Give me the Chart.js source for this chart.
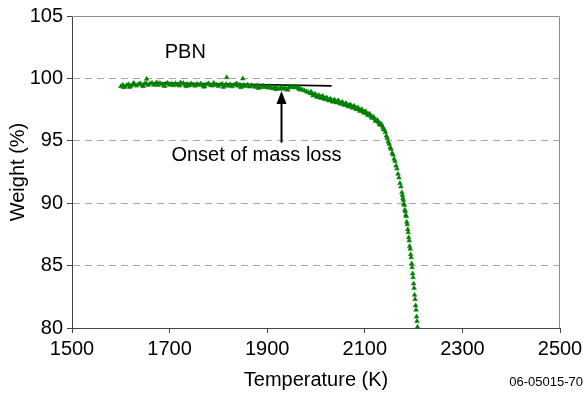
<!DOCTYPE html>
<html>
<head>
<meta charset="utf-8">
<script src="https://cdn.jsdelivr.net/npm/chart.js@4/dist/chart.umd.min.js"></script>
<style>
  html, body { margin: 0; padding: 0; background: #fff; }
  #wrap { width: 587px; height: 394px; position: relative; }
</style>
</head>
<body>
<div id="wrap"><canvas id="c" width="587" height="394"></canvas></div>
<script>
// Thermogravimetric run of PBN: sample weight (%) versus temperature (K)
const temperatureK = [
  1600,1604,1608,1612,1616,1620,1624,1628,1632,1636,1640,1644,1648,1652,1653,1656,1660,1664,1668,1672,
  1676,1680,1684,1688,1692,1696,1700,1704,1708,1712,1716,1720,1724,1728,1732,1736,1740,1744,1748,1752,
  1756,1760,1764,1768,1772,1776,1780,1784,1788,1792,1796,1800,1804,1808,1812,1816,1817,1820,1824,1828,
  1832,1836,1840,1844,1848,1850,1852,1856,1860,1864,1868,1872,1876,1880,1884,1888,1892,1896,1900,1904,
  1908,1912,1916,1920,1924,1928,1932,1936,1940,1944,1948,1952,1956,1960,1964,1968,1972,1976,1980,1984,
  1988,1992,1996,2000,2004,2008,2012,2016,2020,2024,2028,2032,2036,2040,2044,2048,2052,2056,2060,2064,
  2068,2072,2076,2080,2084,2088,2092,2096,2100,2104,2107,2110,2113,2116,2119,2122,2125,2128,2131,2134,
  2137,2140,2142,2144,2146,2148,2150,2152,2154,2156,2158,2160,2162,2164,2166,2168,2170,2172,2174,2176,
  2177,2178,2179,2180,2181,2182,2183,2184,2185,2186,2187,2188,2189,2190,2191,2192,2193,2194,2195,2196,
  2197,2198,2199,2200,2201,2202,2203,2204,2205,2206,2207,2208,
  1606,1618,1626,1646,1674,1690,1722,1734,1770,1790,1810,1838,1846,1882,1918,1942,1966,
  1990,1994,1998,2002,2006,2010,2014,2018,2022,2026,2030,2034,2038,2042,2046,2050,2054,2058,2062,2066,
  2070,2074,2078,2082,2086,2090,2094,2098,2102,2106,2110,2114,2118,2122,2126,2130,2134,2138
];
const weightPct = [
  99.36,99.47,99.33,99.45,99.52,99.38,99.49,99.56,99.41,99.53,99.60,99.44,99.55,99.62,99.95,99.46,99.57,99.63,99.47,99.59,
  99.45,99.61,99.53,99.43,99.58,99.63,99.47,99.57,99.44,99.60,99.50,99.41,99.56,99.62,99.46,99.54,99.42,99.58,99.49,99.40,
  99.55,99.46,99.58,99.43,99.38,99.53,99.59,99.44,99.41,99.56,99.47,99.37,99.50,99.56,99.42,99.53,100.08,99.39,99.51,99.35,
  99.48,99.54,99.40,99.50,99.36,99.98,99.47,99.38,99.50,99.33,99.45,99.37,99.30,99.44,99.34,99.28,99.41,99.31,99.25,99.37,
  99.23,99.19,99.32,99.21,99.15,99.27,99.16,99.24,99.13,99.25,99.30,99.34,99.26,99.31,99.22,99.16,99.08,99.03,98.95,98.90,
  98.80,98.78,98.66,98.64,98.56,98.52,98.54,98.42,98.40,98.34,98.30,98.24,98.22,98.14,98.18,98.06,98.05,97.96,97.95,97.86,
  97.84,97.78,97.72,97.66,97.60,97.50,97.46,97.36,97.32,97.18,97.14,97.03,96.98,96.86,96.80,96.68,96.60,96.48,96.38,96.24,
  96.10,95.90,95.70,95.40,95.22,94.92,94.74,94.46,94.33,94.02,93.88,93.55,93.36,93.00,92.76,92.34,92.05,91.60,91.32,90.86,
  90.65,90.40,90.24,89.95,89.84,89.46,89.34,89.05,88.94,88.50,88.30,87.90,87.66,87.25,87.00,86.55,86.34,85.90,85.65,85.16,
  84.86,84.35,84.05,83.55,83.20,82.65,82.30,81.80,81.45,80.90,80.55,80.08,
  99.28,99.30,99.62,99.36,99.68,99.38,99.66,99.36,99.32,99.62,99.30,99.58,99.28,99.22,99.12,99.08,99.10,
  98.92,98.62,98.76,98.50,98.64,98.42,98.58,98.32,98.46,98.22,98.36,98.12,98.28,98.05,98.22,97.96,98.10,97.86,98.00,97.74,
  97.90,97.64,97.80,97.52,97.66,97.38,97.52,97.24,97.36,97.06,97.16,96.84,96.92,96.58,96.66,96.30,96.34,95.92
];

// Tangent to the baseline used to locate the onset of mass loss
const onsetLineT = [1659, 2032];
const onsetLineW = [99.65, 99.40];

// Axis tick positions
const tempTicks = [1500, 1700, 1900, 2100, 2300, 2500];
const weightTicks = [80, 85, 90, 95, 100, 105];

const FONT = "'Liberation Sans', Arial, sans-serif";
const GREEN = '#008000';

const points = temperatureK.map((t, i) => ({ x: t, y: weightPct[i] }));
const tangent = onsetLineT.map((t, i) => ({ x: t, y: onsetLineW[i] }));

// Annotation layer: plot frame, arrow and free text
const notes = {
  id: 'notes',
  beforeDatasetsDraw(chart) {
    const { ctx, chartArea: a } = chart;
    ctx.save();
    ctx.strokeStyle = '#8c8c8c';
    ctx.lineWidth = 1;
    ctx.beginPath();
    ctx.moveTo(a.left, a.top + 0.5);
    ctx.lineTo(a.right - 0.5, a.top + 0.5);
    ctx.lineTo(a.right - 0.5, a.bottom);
    ctx.stroke();
    ctx.restore();
  },
  afterDatasetsDraw(chart) {
    const { ctx, scales: { x, y } } = chart;
    ctx.save();
    // arrow pointing at the onset
    const ax = Math.round(x.getPixelForValue(1928)) + 0.5;
    const yTail = y.getPixelForValue(94.85);
    const yTip = y.getPixelForValue(99.0);
    ctx.strokeStyle = '#000';
    ctx.fillStyle = '#000';
    ctx.lineWidth = 2;
    ctx.beginPath();
    ctx.moveTo(ax, yTail);
    ctx.lineTo(ax, yTip + 10);
    ctx.stroke();
    ctx.beginPath();
    ctx.moveTo(ax, yTip);
    ctx.lineTo(ax - 5, yTip + 13);
    ctx.lineTo(ax + 5, yTip + 13);
    ctx.closePath();
    ctx.fill();

    ctx.font = '20px ' + FONT;
    ctx.textBaseline = 'middle';
    ctx.textAlign = 'left';
    ctx.fillText('PBN', x.getPixelForValue(1690), y.getPixelForValue(102.05));
    ctx.textAlign = 'center';
    ctx.fillText('Onset of mass loss', x.getPixelForValue(1878), y.getPixelForValue(93.83));

    ctx.font = '13px ' + FONT;
    ctx.textAlign = 'right';
    ctx.fillText('06-05015-70', 583, 382);
    ctx.restore();
  }
};

new Chart(document.getElementById('c'), {
  type: 'scatter',
  data: {
    datasets: [
      {
        data: points,
        pointStyle: 'triangle',
        pointRadius: 2.7,
        pointBackgroundColor: GREEN,
        pointBorderColor: GREEN,
        pointBorderWidth: 0.5,
        showLine: false
      },
      {
        data: tangent,
        showLine: true,
        borderColor: '#000',
        borderWidth: 1.6,
        pointRadius: 0
      }
    ]
  },
  options: {
    responsive: false,
    animation: false,
    devicePixelRatio: 1,
    layout: { padding: { top: 15, right: 27, bottom: 0, left: 0 } },
    plugins: { legend: { display: false }, tooltip: { enabled: false } },
    scales: {
      x: {
        type: 'linear',
        min: 1500,
        max: 2500,
        afterFit(s) { s.height = 66; },
        afterBuildTicks(s) { s.ticks = tempTicks.map(v => ({ value: v })); },
        ticks: { color: '#000', font: { family: FONT, size: 20 }, padding: 4, maxRotation: 0,
                 callback: v => String(v) },
        grid: { drawOnChartArea: false, drawTicks: true, tickLength: 5, tickColor: '#444', tickWidth: 1 },
        border: { color: '#444', width: 1 },
        title: { display: true, text: 'Temperature (K)', color: '#000',
                 font: { family: FONT, size: 20 }, padding: { top: 0, bottom: 2 } }
      },
      y: {
        type: 'linear',
        min: 80,
        max: 105,
        afterFit(s) { s.width = 72; },
        afterBuildTicks(s) { s.ticks = weightTicks.map(v => ({ value: v })); },
        ticks: { color: '#000', font: { family: FONT, size: 20 }, padding: 4,
                 callback: v => String(v) },
        grid: {
          color: ctx => (ctx.tick && ctx.tick.value > 80 && ctx.tick.value < 105) ? '#a6a6a6' : 'rgba(0,0,0,0)',
          lineWidth: 1,
          drawTicks: true,
          tickLength: 5,
          tickColor: '#444',
          tickWidth: 1,
          tickBorderDash: []
        },
        border: { color: '#444', width: 1, dash: [7, 5] },
        title: { display: true, text: 'Weight (%)', color: '#000',
                 font: { family: FONT, size: 20 }, padding: { top: 6, bottom: 0 } }
      }
    }
  },
  plugins: [notes]
});
</script>
</body>
</html>
